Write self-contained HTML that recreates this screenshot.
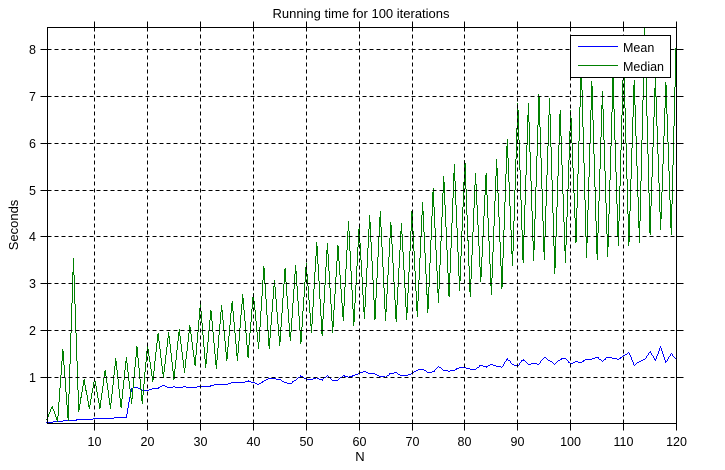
<!DOCTYPE html>
<html>
<head>
<meta charset="utf-8">
<title>Running time for 100 iterations</title>
<style>
html,body{margin:0;padding:0;background:#fff;}
svg{display:block;font-family:"Liberation Sans",Arial,sans-serif;font-size:12.5px;}
</style>
</head>
<body>
<svg id="chart" width="725" height="470" viewBox="0 0 725 470" xmlns="http://www.w3.org/2000/svg"></svg>
<script>
const meanValues = [0.03,0.05,0.07,0.07,0.08,0.08,0.10,0.10,0.10,0.12,0.12,0.13,0.12,0.14,0.14,0.15,0.77,0.79,0.73,0.72,
0.76,0.77,0.83,0.79,0.80,0.79,0.80,0.79,0.79,0.81,0.80,0.82,0.85,0.85,0.85,0.89,0.89,0.89,0.93,0.89,
0.85,0.92,0.98,0.97,0.96,0.89,0.87,0.94,1.04,0.96,0.96,0.99,0.94,1.04,0.94,0.94,1.04,1.01,1.04,1.09,
1.13,1.08,1.08,1.02,1.01,1.09,1.10,1.04,1.04,1.09,1.16,1.18,1.11,1.12,1.23,1.16,1.13,1.16,1.21,1.21,
1.18,1.18,1.26,1.22,1.28,1.24,1.22,1.41,1.28,1.24,1.39,1.28,1.30,1.28,1.43,1.36,1.28,1.39,1.41,1.29,
1.34,1.32,1.39,1.39,1.43,1.35,1.43,1.41,1.39,1.46,1.54,1.26,1.34,1.39,1.56,1.36,1.66,1.32,1.51,1.39];
const medianValues = [0.10,0.39,0.07,1.60,0.09,3.54,0.27,0.96,0.34,0.98,0.34,1.16,0.34,1.40,0.37,1.43,0.44,1.67,0.44,1.69,
0.91,1.93,1.01,1.95,0.96,2.03,1.10,2.10,1.26,2.58,1.21,2.44,1.19,2.54,1.37,2.63,1.36,2.78,1.42,2.80,
1.62,3.37,1.62,3.07,1.69,3.32,1.78,3.39,1.72,3.44,1.96,3.89,1.89,3.86,1.96,3.81,2.22,4.33,2.11,4.21,
2.27,4.46,2.24,4.55,2.22,4.31,2.20,4.28,2.24,4.57,2.31,4.73,2.38,5.03,2.61,5.30,2.72,5.54,2.86,5.64,
2.72,5.35,3.04,5.35,2.77,5.66,2.89,6.07,3.38,6.84,3.45,6.85,3.50,7.03,3.52,6.96,3.23,6.70,3.45,6.70,
3.89,7.70,3.57,7.31,3.52,7.10,3.59,7.40,3.82,7.80,3.82,7.35,3.89,8.45,4.05,7.40,4.15,7.29,4.05,8.44];
const xTickValues = [10,20,30,40,50,60,70,80,90,100,110,120];
const yTickValues = [1,2,3,4,5,6,7,8];
const seriesNames = ["Mean","Median"];
const seriesColors = ["#0000ff","#008000"];

const svg = document.getElementById('chart');
const NS = 'http://www.w3.org/2000/svg';
const plot = {left:47.5, right:676.5, top:27.5, bottom:423.5};
function xScale(n){ return plot.right - (120 - n) * 5.29; }
function yScale(v){ return 377.5 - (v - 1) * 46.85; }
function snap(p){ return Math.floor(p) + 0.5; }
function make(tag, attrs, parent){
  const e = document.createElementNS(NS, tag);
  for (const k in attrs) e.setAttribute(k, attrs[k]);
  (parent || svg).appendChild(e);
  return e;
}
function crispLine(x1,y1,x2,y2,extra,parent){
  return make('line', Object.assign({x1,y1,x2,y2,stroke:'#000','stroke-width':1,'shape-rendering':'crispEdges'}, extra||{}), parent);
}
// Rasterises the polyline into whole pixels so it has the same aliased staircase look.
function seriesPath(values){
  const seen = new Set();
  let d = '';
  for (let i = 0; i + 1 < values.length; i++) {
    const x0 = xScale(i+1), y0 = yScale(values[i]);
    const x1 = xScale(i+2), y1 = yScale(values[i+1]);
    const steps = Math.max(1, Math.ceil(Math.max(Math.abs(x1-x0), Math.abs(y1-y0))));
    for (let s = 0; s <= steps; s++) {
      const px = Math.floor(x0 + (x1-x0)*s/steps);
      const py = Math.floor(y0 + (y1-y0)*s/steps);
      const key = px + ',' + py;
      if (!seen.has(key) && py >= 27 && py <= 423) {
        seen.add(key);
        d += 'M' + px + ' ' + py + 'h1v1h-1z';
      }
    }
  }
  return d;
}

// series
const meanLine = make('path',{d:seriesPath(meanValues),fill:seriesColors[0],'shape-rendering':'crispEdges'});


const medianLine = make('path',{d:seriesPath(medianValues),fill:seriesColors[1],'shape-rendering':'crispEdges'});



// grid
const dash = {'stroke-dasharray':'4 3'};
xTickValues.forEach(t=>{
  const px = snap(xScale(t));
  if (t < 120) {
    const g = crispLine(px,plot.bottom,px,plot.top,dash);
    
    
  }
});
yTickValues.forEach(t=>{
  const py = snap(yScale(t));
  const g = crispLine(plot.left,py,plot.right,py,dash);
  
  
});

// axes box
const box = make('rect',{x:plot.left,y:plot.top,width:plot.right-plot.left,height:plot.bottom-plot.top,fill:'none',stroke:'#000','stroke-width':1,'shape-rendering':'crispEdges'});



// ticks and labels
xTickValues.forEach(t=>{
  const px = snap(xScale(t));
  const a = crispLine(px,plot.bottom,px,plot.bottom+7);
  
  
  const b = crispLine(px,plot.top-6,px,plot.top);
  
  
  const l = make('text',{x:px,y:446,'text-anchor':'middle',fill:'#000'});
  l.textContent = t;
  
  
});
yTickValues.forEach(t=>{
  const py = snap(yScale(t));
  const a = crispLine(plot.left-7,py,plot.left,py);
  
  
  const b = crispLine(plot.right,py,plot.right+7,py);
  
  
  const l = make('text',{x:36,y:py+4.5,'text-anchor':'end',fill:'#000'});
  l.textContent = t;
  
  
});

// titles
const title = make('text',{x:361,y:18,'text-anchor':'middle',fill:'#000','font-size':'13px'});
title.textContent = 'Running time for 100 iterations';


const xTitle = make('text',{x:360,y:461,'text-anchor':'middle',fill:'#000','font-size':'13px'});
xTitle.textContent = 'N';


const yTitle = make('text',{x:18,y:225,'text-anchor':'middle',fill:'#000','font-size':'13px',transform:'rotate(-90 18 225)'});
yTitle.textContent = 'Seconds';



// legend
const legend = make('g',{});


make('rect',{x:570.5,y:35.5,width:100,height:42,fill:'#fff',stroke:'#000','stroke-width':1,'shape-rendering':'crispEdges'},legend);
seriesNames.forEach((name,i)=>{
  const rowY = 46.5 + i * 19;
  const k = crispLine(578,rowY,618,rowY,{stroke:seriesColors[i]},legend);
  
  
  const t = make('text',{x:623,y:52 + i * 19,fill:'#000'},legend);
  t.textContent = name;
  
  
});
</script>
</body>
</html>
